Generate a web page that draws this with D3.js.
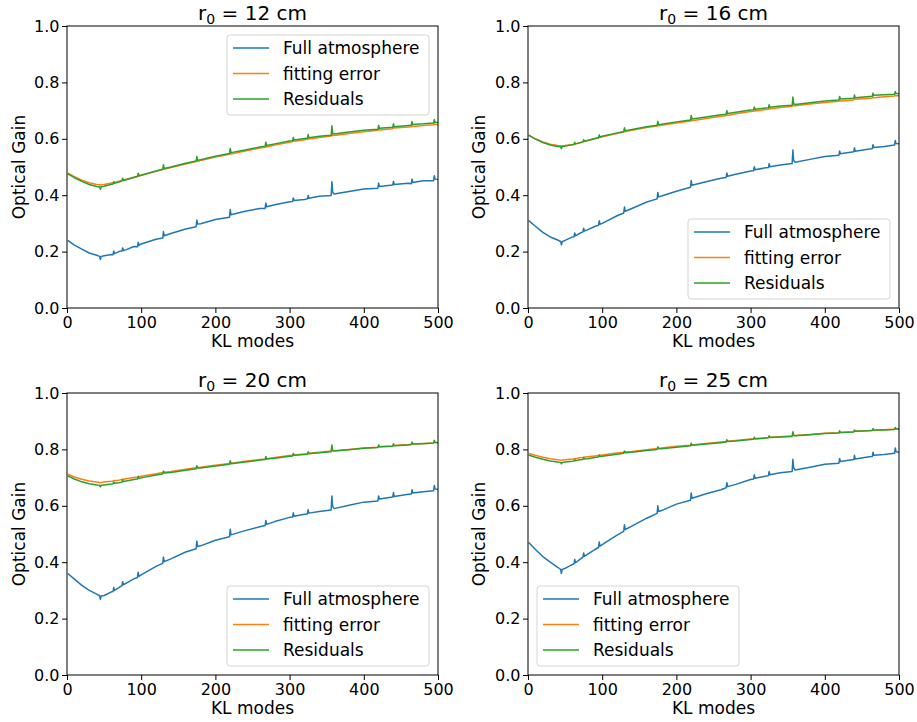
<!DOCTYPE html>
<html>
<head>
<meta charset="utf-8">
<script src="https://cdn.jsdelivr.net/npm/d3@7"></script>
<style>
  html, body { margin: 0; padding: 0; background: #fff; }
  svg { display: block; }
  text { font-family: "DejaVu Sans", sans-serif; fill: #000; }
</style>
</head>
<body>
<svg id="chart" width="917" height="722"></svg>
<script>
// ---------------- DATA ----------------
const modes = [
  1,10,20,30,40,44,45,46,50,60,
  62,63,64,70,74,75,76,80,90,95,96,97,100,
  120,129,130,131,140,160,174,175,176,180,
  200,219,220,221,240,260,267,268,269,280,
  300,304,305,306,320,324,325,326,340,356,357,358,360,380,400,419,
  420,421,439,440,441,460,464,465,466,480,494,495,496,500
];
const r0Values = [12, 16, 20, 25];
const seriesNames = ["Full atmosphere", "fitting error", "Residuals"];
const xTicks = [0, 100, 200, 300, 400, 500];
const yTicks = [0.0, 0.2, 0.4, 0.6, 0.8, 1.0];

const full12 = [
  .240,.223,.209,.195,.187,.183,.172,.183,.185,.190,
  .189,.202,.193,.200,.202,.213,.204,.207,.218,.217,.233,.222,.227,
  .244,.248,.271,.256,.264,.280,.288,.312,.298,.299,
  .314,.322,.349,.331,.343,.353,.353,.372,.359,.366,
  .377,.378,.390,.381,.385,.387,.399,.389,.396,.399,.448,.411,.404,.413,.422,.425,
  .443,.431,.436,.449,.438,.442,.441,.457,.445,.451,.451,.469,.457,.456];
const fit12 = [
  .478,.466,.453,.444,.438,.437,.435,.437,.438,.443,
  .444,.446,.445,.450,.453,.455,.454,.457,.464,.467,.470,.468,.471,
  .485,.491,.495,.492,.498,.511,.519,.524,.520,.523,
  .535,.545,.550,.546,.557,.567,.570,.574,.571,.578,
  .588,.590,.593,.591,.597,.598,.601,.599,.605,.610,.620,.612,.612,.619,.625,.630,
  .634,.631,.636,.640,.638,.642,.643,.646,.644,.647,.650,.653,.651,.651];
const res12 = [
  .476,.462,.449,.438,.431,.429,.421,.430,.432,.439,
  .440,.448,.442,.447,.450,.460,.452,.455,.463,.466,.478,.469,.471,
  .486,.492,.508,.495,.500,.513,.521,.537,.524,.526,
  .538,.548,.566,.551,.560,.571,.574,.588,.576,.582,
  .592,.593,.605,.596,.601,.602,.615,.604,.609,.613,.646,.620,.617,.624,.630,.634,
  .648,.637,.641,.653,.643,.647,.648,.661,.651,.653,.656,.668,.659,.658];

const full16 = [
  .310,.290,.268,.252,.241,.236,.224,.235,.240,.252,
  .253,.266,.256,.265,.270,.283,.273,.277,.289,.293,.309,.297,.300,
  .327,.337,.358,.343,.353,.376,.387,.410,.394,.397,
  .414,.428,.452,.435,.448,.460,.463,.479,.467,.474,
  .486,.487,.501,.490,.497,.498,.512,.501,.507,.512,.560,.523,.517,.527,.537,.542,
  .557,.547,.554,.568,.556,.564,.565,.579,.569,.573,.578,.594,.583,.582];
const fit16 = [
  .612,.600,.589,.581,.576,.575,.573,.575,.576,.580,
  .581,.583,.582,.586,.589,.591,.590,.593,.600,.603,.606,.604,.607,
  .619,.624,.628,.625,.630,.640,.645,.650,.646,.648,
  .656,.663,.668,.664,.672,.680,.682,.686,.683,.689,
  .697,.698,.701,.699,.704,.705,.708,.706,.711,.715,.723,.717,.717,.723,.729,.733,
  .737,.734,.738,.742,.740,.744,.745,.748,.746,.749,.752,.755,.753,.753];
const res16 = [
  .613,.599,.587,.578,.573,.572,.565,.573,.574,.579,
  .580,.588,.582,.586,.589,.597,.591,.594,.601,.604,.614,.606,.609,
  .621,.626,.639,.629,.633,.643,.648,.662,.651,.652,
  .660,.667,.683,.670,.677,.685,.687,.700,.690,.694,
  .702,.703,.713,.705,.709,.710,.721,.712,.716,.719,.748,.725,.722,.728,.734,.738,
  .750,.741,.744,.755,.746,.750,.751,.762,.754,.756,.758,.768,.761,.760];

const full20 = [
  .360,.340,.318,.300,.287,.281,.268,.280,.282,.295,
  .296,.310,.300,.310,.317,.331,.320,.326,.341,.346,.364,.350,.355,
  .385,.396,.418,.402,.412,.436,.448,.475,.456,.458,
  .478,.490,.517,.497,.512,.526,.530,.548,.534,.544,
  .559,.560,.575,.563,.570,.571,.586,.574,.580,.585,.635,.598,.590,.602,.613,.617,
  .635,.624,.631,.647,.633,.641,.642,.657,.645,.650,.653,.672,.660,.658];
const fit20 = [
  .712,.702,.694,.688,.684,.683,.682,.683,.684,.687,
  .688,.690,.689,.691,.693,.695,.694,.696,.700,.702,.705,.703,.705,
  .714,.718,.721,.719,.722,.730,.735,.739,.736,.737,
  .744,.750,.754,.751,.758,.764,.766,.769,.767,.771,
  .778,.779,.782,.780,.784,.785,.788,.786,.790,.794,.800,.795,.795,.800,.805,.808,
  .812,.809,.812,.816,.814,.817,.818,.821,.819,.821,.823,.826,.824,.824];
const res20 = [
  .706,.695,.685,.678,.674,.673,.667,.673,.674,.677,
  .678,.684,.680,.682,.684,.691,.686,.688,.693,.695,.703,.697,.699,
  .709,.713,.723,.716,.718,.726,.731,.742,.734,.734,
  .741,.747,.760,.749,.755,.762,.764,.775,.766,.769,
  .776,.777,.786,.779,.782,.783,.792,.785,.788,.792,.816,.797,.794,.799,.804,.807,
  .816,.809,.811,.820,.813,.816,.817,.826,.819,.820,.823,.832,.825,.824];

const full25 = [
  .470,.445,.420,.400,.382,.375,.360,.374,.378,.392,
  .394,.410,.398,.410,.418,.433,.421,.428,.445,.452,.472,.457,.462,
  .496,.509,.533,.516,.528,.556,.573,.600,.580,.583,
  .606,.620,.645,.627,.643,.657,.664,.682,.668,.676,
  .693,.695,.710,.698,.705,.707,.722,.710,.717,.722,.765,.735,.727,.737,.747,.751,
  .768,.757,.764,.779,.766,.774,.775,.790,.779,.782,.786,.805,.792,.790];
const fit25 = [
  .786,.779,.772,.767,.763,.762,.761,.762,.763,.766,
  .767,.768,.767,.770,.771,.773,.772,.774,.777,.778,.781,.779,.780,
  .787,.790,.793,.791,.793,.799,.803,.807,.804,.805,
  .811,.815,.819,.816,.821,.826,.828,.831,.829,.832,
  .837,.838,.841,.839,.841,.842,.845,.843,.845,.848,.853,.849,.849,.853,.857,.859,
  .862,.860,.863,.866,.864,.867,.868,.870,.868,.870,.872,.875,.873,.873];
const res25 = [
  .780,.772,.765,.759,.755,.754,.749,.754,.755,.758,
  .759,.764,.760,.763,.764,.770,.766,.767,.771,.773,.779,.775,.776,
  .783,.786,.794,.788,.790,.796,.800,.809,.802,.802,
  .808,.813,.822,.815,.819,.824,.826,.834,.828,.830,
  .835,.836,.843,.837,.840,.841,.848,.842,.844,.846,.863,.850,.848,.852,.856,.858,
  .866,.860,.862,.869,.864,.866,.867,.874,.869,.869,.871,.878,.873,.872];

// ---------------- LAYOUT ----------------
const colors = ["#1f77b4", "#ff7f0e", "#2ca02c"];
const panels = [
  { r0: r0Values[0], series: [full12, fit12, res12], x0: 67,  y0: 26,  legend: "upper right" },
  { r0: r0Values[1], series: [full16, fit16, res16], x0: 528, y0: 26,  legend: "lower right" },
  { r0: r0Values[2], series: [full20, fit20, res20], x0: 67,  y0: 393, legend: "lower right" },
  { r0: r0Values[3], series: [full25, fit25, res25], x0: 528, y0: 393, legend: "lower left" }
];
const W = 371, H = 282;

const svg = d3.select("#chart");

panels.forEach((p, pi) => {
  const g = svg.append("g").attr("transform", `translate(${p.x0},${p.y0})`);
  const x = d3.scaleLinear().domain([0, 500]).range([0, W]);
  const y = d3.scaleLinear().domain([0, 1]).range([H, 0]);

  const clipId = "clip" + pi;
  g.append("clipPath").attr("id", clipId)
    .append("rect").attr("x", 0).attr("y", 0).attr("width", W).attr("height", H);

  const line = d3.line().x((d, i) => x(modes[i])).y(d => y(d));

  const plot = g.append("g").attr("clip-path", `url(#${clipId})`);
  p.series.forEach((s, si) => {
    plot.append("path")
      .datum(s)
      .attr("d", line)
      .attr("fill", "none")
      .attr("stroke", colors[si])
      .attr("stroke-width", 1.5)
      .attr("stroke-linejoin", "round");
  });

  // Axes
  const xAxis = d3.axisBottom(x).tickValues(xTicks).tickFormat(d3.format("d"))
    .tickSize(5).tickPadding(3.5);
  const yAxis = d3.axisLeft(y).tickValues(yTicks).tickFormat(d3.format(".1f"))
    .tickSize(5).tickPadding(2.5);

  const gx = g.append("g").attr("transform", `translate(0,${H})`).call(xAxis);
  const gy = g.append("g").call(yAxis);
  [gx, gy].forEach(a => {
    a.select(".domain").remove();
    a.selectAll(".tick line").attr("stroke", "#000").attr("stroke-width", 1);
    a.selectAll(".tick text").attr("font-size", 16).attr("font-family", "DejaVu Sans, sans-serif").attr("fill", "#000");
  });

  // Frame (spines)
  g.append("rect").attr("x", 0).attr("y", 0).attr("width", W).attr("height", H)
    .attr("fill", "none").attr("stroke", "#000").attr("stroke-width", 1);

  // Axis labels
  g.append("text").attr("x", W / 2).attr("y", H + 38.5)
    .attr("text-anchor", "middle").attr("font-size", 17).text("KL modes");
  g.append("text")
    .attr("transform", `translate(${25 - p.x0 + (p.x0 === 67 ? 0 : 460)},${H / 2}) rotate(-90)`)
    .attr("text-anchor", "middle").attr("font-size", 17).text("Optical Gain");

  // Title with subscript
  const t = g.append("text").attr("x", W / 2).attr("y", -6)
    .attr("text-anchor", "middle").attr("font-size", 20);
  t.append("tspan").text("r");
  t.append("tspan").attr("font-size", 14).attr("dy", 4).text("0");
  t.append("tspan").attr("dy", -4).text(" = " + p.r0 + " cm");

  // Legend
  const LW = 202, LH = 80;
  let lx, ly;
  if (p.legend === "upper right") { lx = W - 9 - LW; ly = 9; }
  else if (p.legend === "lower right") { lx = W - 9 - LW; ly = H - 9 - LH; }
  else { lx = 9; ly = H - 9 - LH; }
  const lg = g.append("g").attr("transform", `translate(${lx},${ly})`);
  lg.append("rect").attr("width", LW).attr("height", LH).attr("rx", 3).attr("ry", 3)
    .attr("fill", "#fff").attr("fill-opacity", 0.8)
    .attr("stroke", "#d5d5d5").attr("stroke-width", 1);
  seriesNames.forEach((name, i) => {
    const ry = 13 + i * 25.5;
    lg.append("line").attr("x1", 6).attr("x2", 42).attr("y1", ry).attr("y2", ry)
      .attr("stroke", colors[i]).attr("stroke-width", 1.5);
    lg.append("text").attr("x", 56).attr("y", ry).attr("dy", "0.36em")
      .attr("font-size", 17).text(name);
  });
});
</script>
</body>
</html>
